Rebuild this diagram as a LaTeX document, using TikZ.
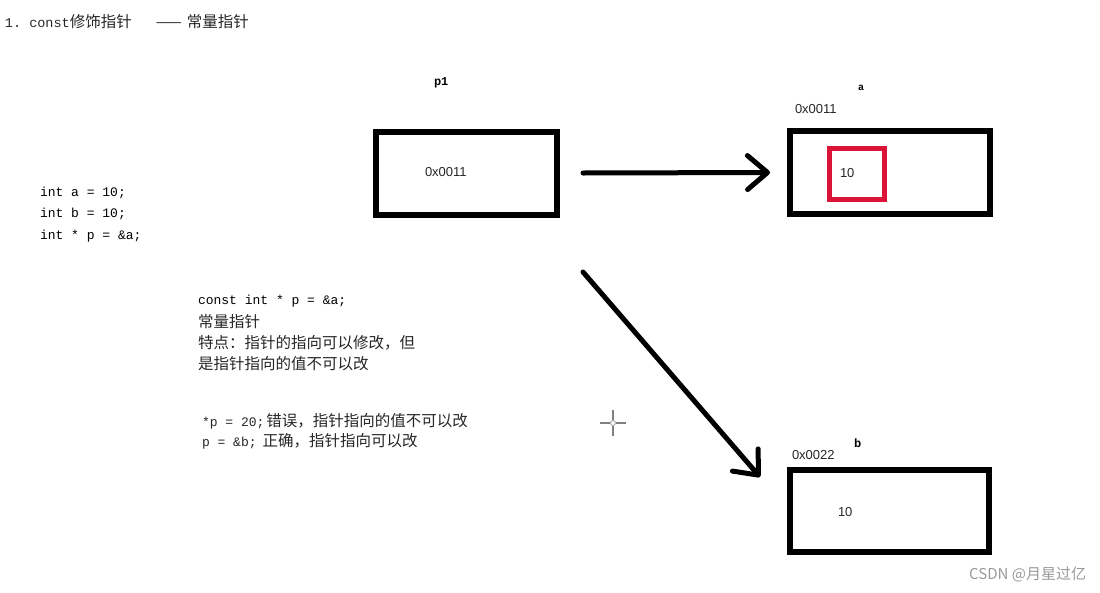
\documentclass[tikz,border=0pt]{standalone}
\usepackage{fontspec}
\setmainfont{Noto Sans CJK SC}
\setmonofont{Liberation Mono}
\newfontfamily\boxfont{Liberation Sans}
\usetikzlibrary{arrows.meta, positioning}

\definecolor{memred}{RGB}{220,20,55}

\begin{document}
\begin{tikzpicture}[
  x=1pt, y=-1pt,
  every node/.style={inner sep=0pt, outer sep=0pt, text=black!85},
  txt/.style={anchor=west, font=\fontsize{15.5}{21}\selectfont},
  code/.style={anchor=west, text=black, font=\ttfamily\fontsize{13}{21}\selectfont},
  addr/.style={anchor=west, font=\boxfont\fontsize{13}{15}\selectfont},
  cell/.style={draw=black, line width=6pt, minimum width=#1, minimum height=83pt},
  arrow/.style={-{Straight Barb[length=20pt, width=34pt, round]}, line width=5pt, line cap=round}
]
\useasboundingbox (0,0) rectangle (1100,592);

% Title
\node[txt] (title) at (5,22) {{\ttfamily\fontsize{13.5}{15}\selectfont 1. const}修饰指针\hspace{24pt}——\hspace{5pt}常量指针};

% Code on the left
\node[code] (ca) at (40,193) {int a = 10;};
\node[code] (cb) at (40,214) {int b = 10;};
\node[code] (cp) at (40,236) {int * p = \&a;};

% Memory cells
\node[cell=181pt] (p1box) at (466.5,173) {};
\node[cell=200pt] (abox) at (890,172.5) {};
\node[cell=199pt, minimum height=82pt] (bbox) at (889.5,511) {};
\node[draw=memred, line width=5pt, minimum width=55pt, minimum height=51pt] (aval) at (857,174) {};

% Labels
\node[code, font=\ttfamily\bfseries\fontsize{12}{13}\selectfont] (p1name) at (434,83) {p1};
\node[addr] (p1val) at (425,172) {0x0011};
\node[code, font=\ttfamily\bfseries\fontsize{10}{11}\selectfont] (aname) at (858,88) {a};
\node[addr] (aaddr) at (795,109) {0x0011};
\node[addr] (anum) at (840,173) {10};
\node[code, font=\ttfamily\bfseries\fontsize{12}{13}\selectfont] (bname) at (854,443) {b};
\node[addr] (baddr) at (792,455) {0x0022};
\node[addr] (bnum) at (838,512) {10};

% Arrows
\draw[arrow] ([xshift=26pt]p1box.east) -- ([xshift=-20pt]abox.west);
\coordinate (tail) at (583,272);
\coordinate (head) at (760,477);
\draw[arrow] (tail) -- (head);

% Notes in the middle
\node[code] (n1) at (198,301) {const int * p = \&a;};
\node[txt] (n2) at (198,322) {常量指针};
\node[txt] (n3) at (198,343) {特点：指针的指向可以修改，但};
\node[txt] (n4) at (198,364) {是指针指向的值不可以改};
\node[txt] (n5) at (202,421) {{\ttfamily\fontsize{13}{15}\selectfont *p = 20;}\hspace{2pt}错误，指针指向的值不可以改};
\node[txt] (n6) at (202,441) {{\ttfamily\fontsize{13}{15}\selectfont p = \&b;}\hspace{6pt}正确，指针指向可以改};

% Cursor mark
\coordinate (cur) at (613,423);
\draw[gray, line width=1.5pt] ([xshift=-13pt]cur) -- ([xshift=13pt]cur)
  ([yshift=-13pt]cur) -- ([yshift=13pt]cur);
\draw[gray!60, fill=white, line width=1pt] (cur) circle (2.5pt);

% Watermark
\node[anchor=east, text=gray!80, font=\fontsize{15}{17}\selectfont] (mark) at (1086,575) {CSDN @月星过亿};
\end{tikzpicture}
\end{document}
